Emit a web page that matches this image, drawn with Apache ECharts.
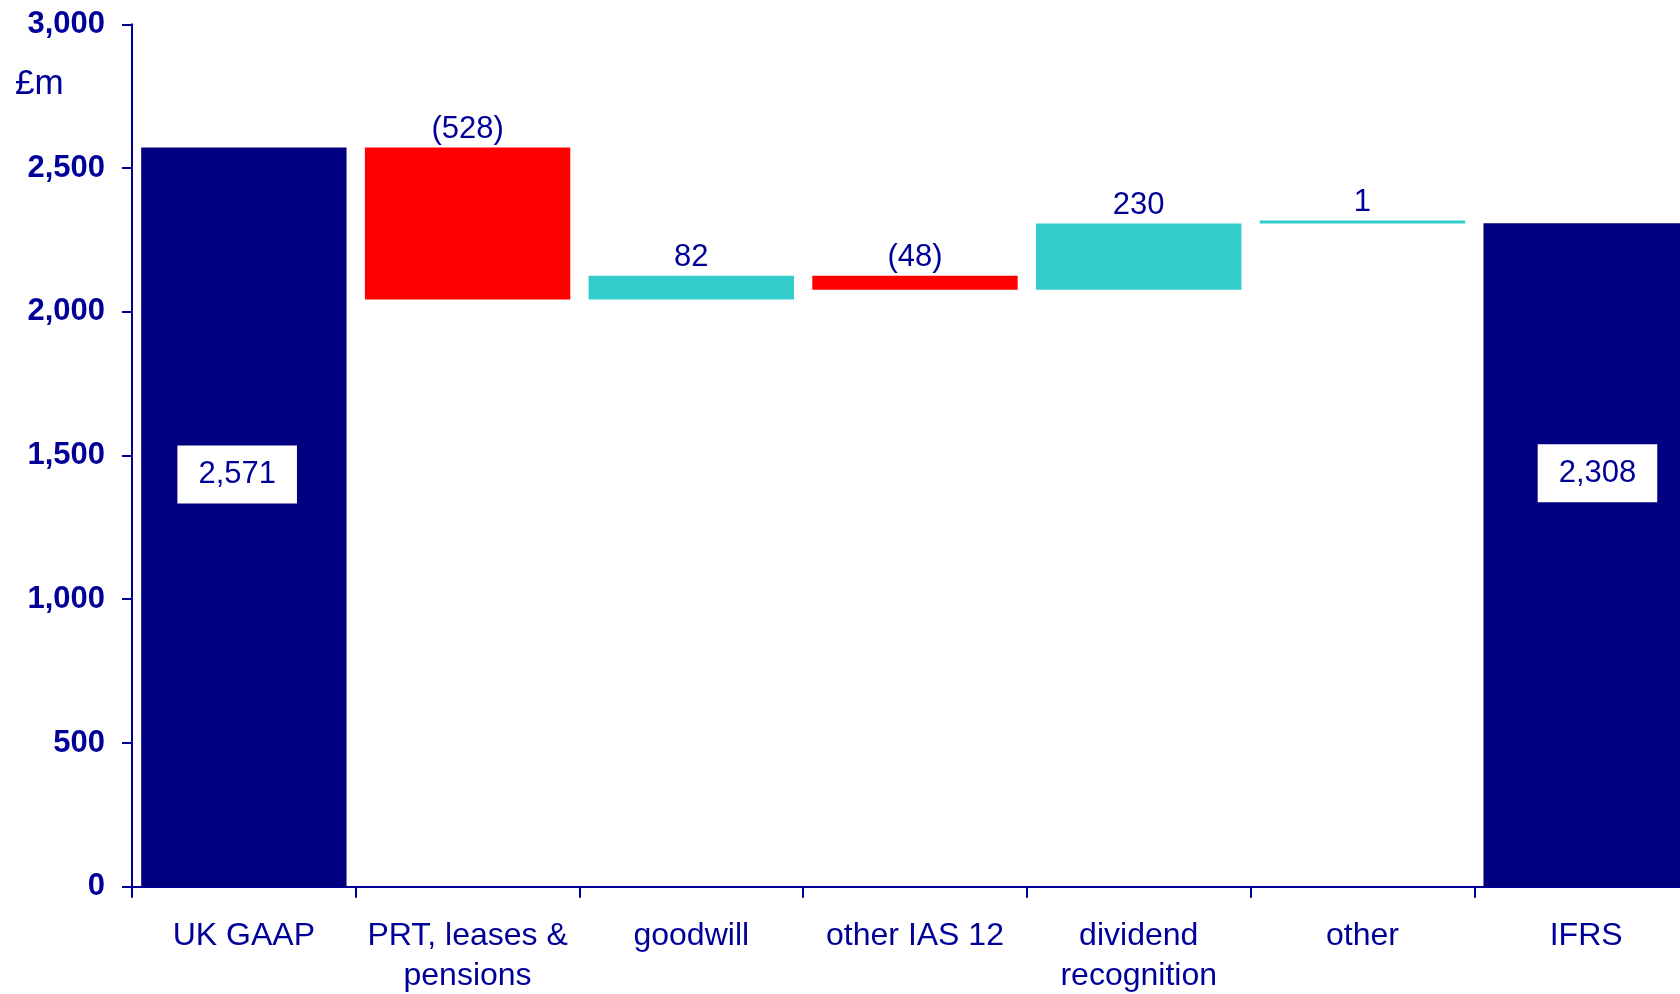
<!DOCTYPE html>
<html>
<head>
<meta charset="utf-8">
<script src="https://cdn.jsdelivr.net/npm/echarts@6/dist/echarts.min.js"></script>
<style>
html,body{margin:0;padding:0;background:#fff;}
#chart{width:1680px;height:994px;}
</style>
</head>
<body>
<div id="chart"></div>
<script>
// ---- data ----
const categories = ['UK GAAP', 'PRT, leases &\npensions', 'goodwill', 'other IAS 12', 'dividend\nrecognition', 'other', 'IFRS'];
const startTotal = 2571;          // UK GAAP
const changes = [null, -528, 82, -48, 230, 1, null];
const endTotal = 2308;            // IFRS
const yTicks = [0, 500, 1000, 1500, 2000, 2500, 3000];

// ---- derived series for waterfall ----
const n = categories.length;
const baseData = [], incData = [], decData = [], totalData = [];
let running = startTotal;
for (let i = 0; i < n; i++) {
  if (i === 0) {
    baseData.push('-'); incData.push('-'); decData.push('-'); totalData.push(startTotal);
  } else if (i === n - 1) {
    baseData.push('-'); incData.push('-'); decData.push('-'); totalData.push(endTotal);
  } else {
    const c = changes[i];
    const next = running + c;
    baseData.push(Math.min(running, next));
    if (c >= 0) { incData.push(c); decData.push('-'); }
    else { decData.push(-c); incData.push('-'); }
    totalData.push('-');
    running = next;
  }
}

const TXT = '#000099';
const FONT = '"Liberation Sans", Arial, sans-serif';
const fmt = v => v.toLocaleString('en-GB');

// per-bar label placement for the totals (pixel offsets inside the bar)
const totalLabelPos = { 0: [96, 327], 6: [114, 250] };
const totalItems = totalData.map((v, i) => v === '-' ? '-' : {
  value: v,
  label: { position: totalLabelPos[i] }
});

const chart = echarts.init(document.getElementById('chart'), null, { renderer: 'canvas' });
chart.setOption({
  animation: false,
  backgroundColor: '#ffffff',
  title: {
    text: '£m', left: 10, top: 62,
    textStyle: { color: TXT, fontFamily: FONT, fontSize: 35, fontWeight: 'normal', lineHeight: 35 }
  },
  grid: { left: 132, width: 1566, top: 24.3, bottom: 107.3, containLabel: false, outerBoundsMode: 'none' },
  xAxis: {
    type: 'category',
    data: categories,
    axisLine: { show: true, lineStyle: { color: TXT, width: 2 } },
    axisTick: { show: true, length: 11, lineStyle: { color: TXT, width: 2 } },
    axisLabel: { color: TXT, fontFamily: FONT, fontSize: 32, lineHeight: 40, margin: 29, interval: 0 },
    splitLine: { show: false }
  },
  yAxis: {
    type: 'value',
    min: yTicks[0], max: yTicks[yTicks.length - 1], interval: 500,
    axisLine: { show: true, lineStyle: { color: TXT, width: 2 } },
    axisTick: { show: true, length: 10, lineStyle: { color: TXT, width: 2 } },
    axisLabel: { color: TXT, fontFamily: FONT, fontSize: 31, fontWeight: 'bold', margin: 27,
      padding: [4, 0, 0, 0], formatter: v => fmt(v) },
    splitLine: { show: false }
  },
  series: [
    {
      name: 'base', type: 'bar', stack: 'w', data: baseData,
      barCategoryGap: '8.2%',
      itemStyle: { color: 'transparent' }, silent: true
    },
    {
      name: 'total', type: 'bar', stack: 'w', data: totalItems,
      itemStyle: { color: '#000080' },
      label: {
        show: true, color: TXT, fontFamily: FONT, fontSize: 31, lineHeight: 32,
        backgroundColor: '#ffffff', padding: [13, 21, 13, 21],
        align: 'center', verticalAlign: 'middle',
        formatter: p => fmt(p.value)
      }
    },
    {
      name: 'decrease', type: 'bar', stack: 'w', data: decData,
      itemStyle: { color: '#ff0000' },
      label: { show: true, position: 'top', distance: 3, color: TXT, fontFamily: FONT, fontSize: 31,
        formatter: p => '(' + fmt(p.value) + ')' }
    },
    {
      name: 'increase', type: 'bar', stack: 'w', data: incData,
      barMinHeight: 3,
      itemStyle: { color: '#33cccc' },
      label: { show: true, position: 'top', distance: 3, color: TXT, fontFamily: FONT, fontSize: 31,
        formatter: p => fmt(p.value) }
    }
  ]
});
</script>
</body>
</html>
